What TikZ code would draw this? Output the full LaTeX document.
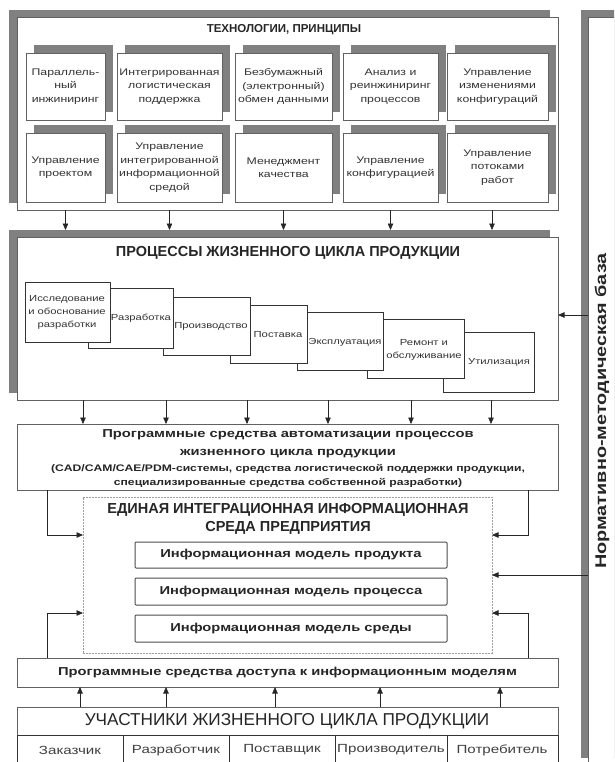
\documentclass[tikz,border=0pt]{standalone}
\usepackage{fontspec}
\setmainfont{Liberation Sans}
\newfontfamily\wideA[FakeStretch=1.28]{Liberation Sans}
\usetikzlibrary{arrows.meta,shadows,calc}
\definecolor{shd}{gray}{0.5}
\definecolor{edg}{gray}{0.38}
\newcommand\mybox[7][]{\node[#1, minimum width={(#4)-(#2)}, minimum height={(#5)-(#3)}] (#6) at ({((#2)+(#4))/2},{((#3)+(#5))/2}) {#7};}
\begin{document}
\begin{tikzpicture}[x=1pt,y=-1pt,
  arr/.style={-{Triangle[length=6.5pt,width=5.5pt]},line width=0.6pt,draw=black!85},
  frame/.style={draw=edg,line width=0.6pt,fill=white,inner sep=0pt,outer sep=0pt},
  bshd/.style={drop shadow={shadow xshift=-8pt,shadow yshift=7pt,fill=shd,opacity=1}},
  sshd/.style={drop shadow={shadow xshift=8pt,shadow yshift=8pt,fill=shd,opacity=1}},
  tbox/.style={frame,sshd,align=center,text=black!80,font=\wideA\fontsize{9.6}{13.5}\selectfont},
  stage/.style={draw=black!80,line width=0.6pt,fill=white,inner sep=0pt,outer sep=0pt},
  stxt/.style={align=center,text=black!80,font=\wideA\fontsize{8.8}{13}\selectfont,inner sep=0pt},
  ttl/.style={font=\bfseries\fontsize{14.5}{18}\selectfont,align=center,inner sep=0pt,text=black!85},
  btxt/.style={font=\wideA\bfseries\fontsize{11.5}{18}\selectfont,align=center,inner sep=0pt,text=black!85},
  ctxt/.style={font=\wideA\bfseries\fontsize{9.5}{14}\selectfont,align=center,inner sep=0pt,text=black!85},
  model/.style={draw=gray!60!black,line width=1pt,fill=white,inner sep=0pt,outer sep=0pt,rounded corners=1pt},
  dbox/.style={draw=gray!75,line width=0.8pt,dash pattern=on 1.6pt off 1.4pt,inner sep=0pt,outer sep=0pt},
  cell/.style={draw=black!80,line width=0.6pt,inner sep=0pt,outer sep=0pt,text=black!75,font=\wideA\fontsize{11.8}{14}\selectfont},
]
\useasboundingbox (0,0) rectangle (614,762);
\clip (0,0) rectangle (614,762);
\fill[white] (0,0) rectangle (614,762);

% right bar
\mybox[frame,drop shadow={shadow xshift=-7pt,shadow yshift=7pt,fill=shd,opacity=1}]{588}{17}{640}{765}{nb}{}
\node[rotate=90,font=\wideA\bfseries\fontsize{15.5}{18}\selectfont,inner sep=0pt,text=black!85] (nbT) at (602,411) {Нормативно-методическая база};

% technologies
\mybox[frame,bshd]{17}{17}{558}{210}{tech}{}
\node[font=\bfseries\fontsize{11.5}{14}\selectfont,inner sep=0pt,text=black!85] (techT) at (284,30) {ТЕХНОЛОГИИ, ПРИНЦИПЫ};
\mybox[tbox]{26}{53}{105}{120}{t1}{Параллель-\\ный\\инжиниринг}
\mybox[tbox]{117}{53}{222}{120}{t2}{Интегрированная\\логистическая\\поддержка}
\mybox[tbox]{235}{53}{332}{120}{t3}{Безбумажный\\(электронный)\\обмен данными}
\mybox[tbox]{343}{53}{438}{120}{t4}{Анализ и\\реинжиниринг\\процессов}
\mybox[tbox]{447}{53}{548}{120}{t5}{Управление\\изменениями\\конфигураций}
\mybox[tbox]{26}{133}{105}{202}{s1}{Управление\\проектом}
\mybox[tbox]{117}{133}{222}{202}{s2}{Управление\\интегрированной\\информационной\\средой}
\mybox[tbox]{235}{133}{332}{202}{s3}{Менеджмент\\качества}
\mybox[tbox]{343}{133}{438}{202}{s4}{Управление\\конфигурацией}
\mybox[tbox]{447}{133}{548}{202}{s5}{Управление\\потоками\\работ}

% processes
\mybox[frame,bshd]{17}{237}{558}{400}{proc}{}
\node[ttl] (procT) at (288,253) {ПРОЦЕССЫ ЖИЗНЕННОГО ЦИКЛА ПРОДУКЦИИ};
\mybox[stage]{443}{332}{534}{392}{st7}{}
\mybox[stage]{367}{319}{464}{378}{st6}{}
\mybox[stage]{297}{312}{383}{370}{st5}{}
\mybox[stage]{230}{305}{307}{363}{st4}{}
\mybox[stage]{163}{297}{250}{355}{st3}{}
\mybox[stage]{88}{288}{173}{348}{st2}{}
\mybox[stage]{25}{282}{110}{342}{st1}{}
\node[stxt] (x1) at (67,312) {Исследование\\и обоснование\\разработки};
\node[stxt] (x2) at (141,318) {Разработка};
\node[stxt] (x3) at (211,326) {Производство};
\node[stxt] (x4) at (278,335) {Поставка};
\node[stxt] (x5) at (345,342) {Эксплуатация};
\node[stxt] (x6) at (424,350) {Ремонт и\\обслуживание};
\node[stxt] (x7) at (499,362) {Утилизация};

% programs
\mybox[frame]{17}{424}{558}{490}{prog}{}
\node[btxt] (progA) at (288,444) {Программные средства автоматизации процессов\\жизненного цикла продукции};
\node[ctxt] (progB) at (288,476) {(CAD/CAM/CAE/PDM-системы, средства логистической поддержки продукции,\\специализированные средства собственной разработки)};

% environment
\mybox[dbox]{83}{497}{492}{653}{env}{}
\node[ttl] (envT) at (288,519) {ЕДИНАЯ ИНТЕГРАЦИОННАЯ ИНФОРМАЦИОННАЯ\\СРЕДА ПРЕДПРИЯТИЯ};
\mybox[model,btxt]{135}{542}{447}{568}{m1}{Информационная модель продукта}
\mybox[model,btxt]{135}{578}{447}{605}{m2}{Информационная модель процесса}
\mybox[model,btxt]{135}{615}{447}{642}{m3}{Информационная модель среды}

% access
\mybox[frame,btxt]{17}{658}{558}{687}{acc}{Программные средства доступа к информационным моделям}

% participants
\mybox[frame]{17}{707}{558}{735}{part}{}
\node[font=\fontsize{17.2}{20}\selectfont,inner sep=0pt,text=black!85] (partT) at (287,721) {УЧАСТНИКИ ЖИЗНЕННОГО ЦИКЛА ПРОДУКЦИИ};
\mybox[cell]{17}{735}{123}{775}{p1}{}
\mybox[cell]{123}{735}{229}{775}{p2}{}
\mybox[cell]{229}{735}{335}{775}{p3}{}
\mybox[cell]{335}{735}{447}{775}{p4}{}
\mybox[cell]{447}{735}{558}{775}{p5}{}
\node[cell,draw=none] (q1) at (70,750) {Заказчик};
\node[cell,draw=none] (q2) at (176,750) {Разработчик};
\node[cell,draw=none] (q3) at (282,750) {Поставщик};
\node[cell,draw=none] (q4) at (391,750) {Производитель};
\node[cell,draw=none] (q5) at (502,750) {Потребитель};

% connectors: technologies -> processes
\foreach \s in {s1,s2,s3,s4} \draw[arr,shorten >=7pt] (\s |- tech.south) -- (\s |- proc.north);
\coordinate (c5) at (492,0);
\draw[arr,shorten >=7pt] (c5 |- tech.south) -- (c5 |- proc.north);

% processes -> programs
\foreach \i/\x in {1/83,2/166,3/247,4/328,5/411,6/491}{
  \coordinate (a\i) at (\x,0);
  \draw[arr] (a\i |- proc.south) -- (a\i |- prog.north);
}
% programs -> environment
\coordinate (lq) at (47,535);
\coordinate (rq) at (528,535);
\draw[arr] (lq |- prog.south) |- (env.west |- lq);
\draw[arr] (rq |- prog.south) |- (env.east |- rq);
% access -> environment
\coordinate (lq2) at (47,613);
\coordinate (rq2) at (528,613);
\draw[arr] (lq2 |- acc.north) |- (env.west |- lq2);
\draw[arr] (rq2 |- acc.north) |- (env.east |- rq2);
% participants -> access
\foreach \i/\x in {1/80,2/166,3/275,4/380,5/500}{
  \coordinate (b\i) at (\x,0);
  \draw[arr] (b\i |- part.north) -- (b\i |- acc.south);
}
% normative base -> processes, environment
\coordinate (nq1) at (0,315);
\draw[arr] (nb.west |- nq1) -- (proc.east |- nq1);
\draw[arr] (nb.west |- env.east) -- (env.east);
\end{tikzpicture}
\end{document}
